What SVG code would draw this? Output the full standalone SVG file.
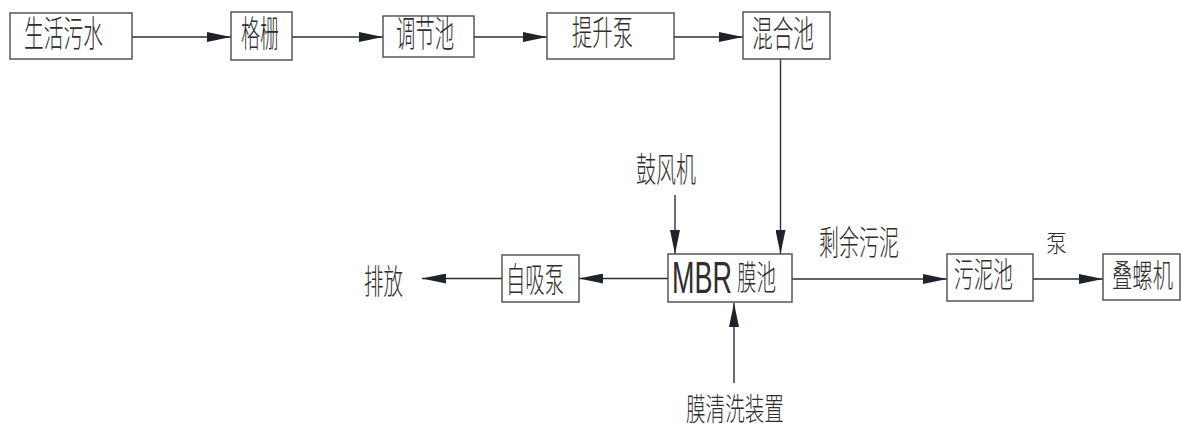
<svg xmlns="http://www.w3.org/2000/svg" width="1183" height="429" viewBox="0 0 1183 429">
<style>
.box{fill:#fff;stroke:#4a4a4a;stroke-width:1.4}
.t{font-family:"Noto Sans CJK SC","Liberation Sans",sans-serif;font-size:36px;font-weight:300;fill:#2e2e2e}
.m{font-family:"Liberation Sans","Noto Sans CJK SC",sans-serif;font-size:44px;font-weight:300;fill:#2e2e2e}
.ln{stroke:#2b2f36;stroke-width:1.4;fill:none;marker-end:url(#ah)}
</style>
<defs>
<marker id="ah" markerUnits="userSpaceOnUse" markerWidth="24" markerHeight="10" refX="24" refY="5" orient="auto" viewBox="0 0 24 10">
<path d="M0,0 L24,5 L0,10 z" fill="#1f242b"/>
</marker>
</defs>
<rect width="1183" height="429" fill="#fff"/>
<g id="connectors">
<line class="ln" x1="132" y1="37" x2="231" y2="37"/>
<line class="ln" x1="292" y1="37" x2="383" y2="37"/>
<line class="ln" x1="474" y1="37" x2="547" y2="37"/>
<line class="ln" x1="674" y1="37" x2="743" y2="37"/>
<line class="ln" x1="780.5" y1="59" x2="780.5" y2="254"/>
<line class="ln" x1="675" y1="195" x2="675" y2="254"/>
<line class="ln" x1="668" y1="278.5" x2="579" y2="278.5"/>
<line class="ln" x1="502" y1="278.5" x2="422" y2="278.5"/>
<line class="ln" x1="792" y1="279" x2="947" y2="279"/>
<line class="ln" x1="1033" y1="279" x2="1103" y2="279"/>
<line class="ln" x1="734" y1="383" x2="734" y2="303"/>
</g>
<g id="n1"><rect class="box" x="10" y="13" width="122" height="46"/><text class="t" transform="matrix(0.549,0,0,1,24,47)">生活污水</text></g>
<g id="n2"><rect class="box" x="231" y="12" width="61" height="48"/><text class="t" transform="matrix(0.528,0,0,1,241,47)">格栅</text></g>
<g id="n3"><rect class="box" x="383" y="16" width="91" height="41"/><text class="t" transform="matrix(0.537,0,0,1,396,47)">调节池</text></g>
<g id="n4"><rect class="box" x="547" y="13" width="127" height="46"/><text class="t" style="font-size:34px" transform="matrix(0.598,0,0,1,572,45)">提升泵</text></g>
<g id="n5"><rect class="box" x="743" y="12" width="87" height="47"/><text class="t" transform="matrix(0.574,0,0,1,752,47)">混合池</text></g>
<g id="n6"><text class="t" style="font-size:34px" transform="matrix(0.588,0,0,1,636,182)">鼓风机</text></g>
<g id="n7"><rect class="box" x="668" y="254" width="124" height="48"/><text class="m" transform="matrix(0.613,0,0,1,672,293)">MBR</text><text class="t" style="font-size:34px" transform="matrix(0.574,0,0,1,737,290)">膜池</text></g>
<g id="n8"><rect class="box" x="502" y="255" width="77" height="47"/><text class="t" style="font-size:34px" transform="matrix(0.569,0,0,1,506,292)">自吸泵</text></g>
<g id="n9"><text class="t" style="font-size:34px" transform="matrix(0.574,0,0,1,364,294)">排放</text></g>
<g id="n10"><text class="t" style="font-size:34px" transform="matrix(0.588,0,0,1,819,255)">剩余污泥</text></g>
<g id="n11"><rect class="box" x="947" y="254" width="86" height="47"/><text class="t" style="font-size:34px" transform="matrix(0.578,0,0,1,954,287)">污泥池</text></g>
<g id="n12"><text class="t" style="font-size:24px" transform="matrix(0.875,0,0,1,1046,252)">泵</text></g>
<g id="n13"><rect class="box" x="1103" y="254" width="77" height="46"/><text class="t" style="font-size:32px" transform="matrix(0.635,0,0,1,1112,287)">叠螺机</text></g>
<g id="n14"><text class="t" style="font-size:31px" transform="matrix(0.632,0,0,1,686,420)">膜清洗装置</text></g>
</svg>
